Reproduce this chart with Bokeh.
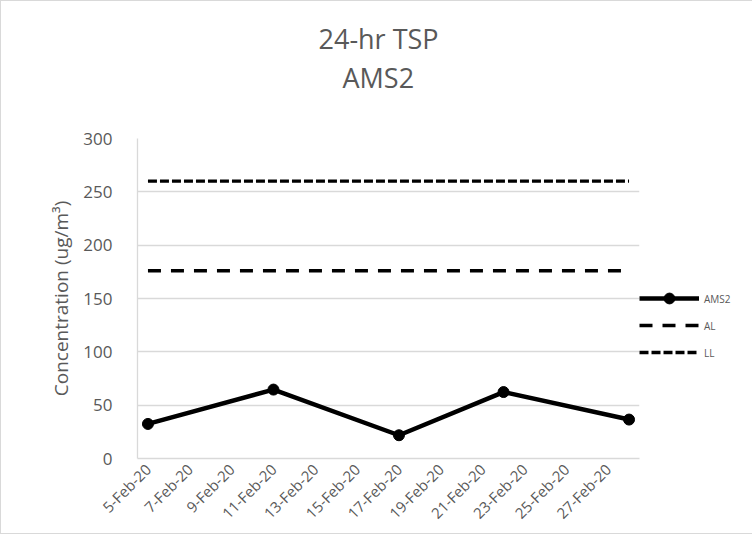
import math
from datetime import date

from bokeh.plotting import figure
from bokeh.models import Range1d, FixedTicker, Legend, LegendItem, Title
from bokeh.embed import file_html
from bokeh.resources import INLINE

# ---- data ----
title_lines = ["24-hr TSP", "AMS2"]
y_label = "Concentration (ug/m³)"
dates = ["2020-02-05", "2020-02-11", "2020-02-17", "2020-02-22", "2020-02-28"]
ams2 = [32.4, 64.6, 21.8, 62.3, 36.5]
al = [176, 176, 176, 176, 176]
ll = [260, 260, 260, 260, 260]
series_names = ["AMS2", "AL", "LL"]
tick_labels = ["5-Feb-20", "7-Feb-20", "9-Feb-20", "11-Feb-20", "13-Feb-20", "15-Feb-20",
               "17-Feb-20", "19-Feb-20", "21-Feb-20", "23-Feb-20", "25-Feb-20", "27-Feb-20"]
y_ticks = [0, 50, 100, 150, 200, 250, 300]

x = [date.fromisoformat(d).day for d in dates]
tick_pos = [int(t.split("-")[0]) for t in tick_labels]

FONT = "Open Sans"
GREY = "#595959"
GRID = "#d9d9d9"

p = figure(frame_width=502, frame_height=320, output_backend="svg", toolbar_location=None,
           x_range=Range1d(4.5, 28.5), y_range=Range1d(0, 300),
           min_border_left=136, min_border_right=98,
           min_border_top=137, min_border_bottom=75)
p.outline_line_color = None
p.background_fill_color = "white"
p.border_fill_color = "white"
p.styles = {"border": "1px solid #d9d9d9"}

# grid
p.xgrid.grid_line_color = None
p.ygrid.ticker = FixedTicker(ticks=y_ticks)
p.ygrid.grid_line_color = GRID
p.ygrid.grid_line_width = 1.3

# y axis
p.yaxis.ticker = FixedTicker(ticks=y_ticks)
p.yaxis.axis_line_color = GRID
p.yaxis.axis_line_width = 1.3
p.yaxis.major_tick_line_color = None
p.yaxis.minor_tick_line_color = None
p.yaxis.major_tick_out = 0
p.yaxis.major_tick_in = 0
p.yaxis.major_label_text_font = FONT
p.yaxis.major_label_text_font_size = "17px"
p.yaxis.major_label_text_color = GREY
p.yaxis.major_label_standoff = 25
p.yaxis.axis_label = y_label
p.yaxis.axis_label_text_font = FONT
p.yaxis.axis_label_text_font_style = "normal"
p.yaxis.axis_label_text_font_size = "19px"
p.yaxis.axis_label_text_color = GREY
p.yaxis.axis_label_standoff = 6

# x axis
p.xaxis.ticker = FixedTicker(ticks=tick_pos)
p.xaxis.major_label_overrides = {tp: lab for tp, lab in zip(tick_pos, tick_labels)}
p.xaxis.major_label_orientation = math.pi / 4
p.xaxis.axis_line_color = GRID
p.xaxis.axis_line_width = 1.3
p.xaxis.major_tick_line_color = None
p.xaxis.minor_tick_line_color = None
p.xaxis.major_tick_out = 0
p.xaxis.major_tick_in = 0
p.xaxis.major_label_text_font = FONT
p.xaxis.major_label_text_font_size = "15px"
p.xaxis.major_label_text_color = GREY
p.xaxis.major_label_standoff = 8

# series
r_ll = p.line(x, ll, line_color="black", line_width=3.3, line_dash="9 3")
r_al = p.line(x, al, line_color="black", line_width=3.3, line_dash="13 10")
r_a = p.line(x, ams2, line_color="black", line_width=4.5, line_join="round")
r_s = p.scatter(x, ams2, size=11, fill_color="black", line_color="black")
r_blank = p.line([], [], line_alpha=0)  # spacer entries for the legend

legend = Legend(items=[LegendItem(label=" ", renderers=[r_blank]),
                       LegendItem(label=" ", renderers=[r_blank]),
                       LegendItem(label=series_names[0], renderers=[r_a, r_s]),
                       LegendItem(label=series_names[1], renderers=[r_al]),
                       LegendItem(label=series_names[2], renderers=[r_ll])],
                location="center_left", glyph_width=60, glyph_height=27, label_height=27,
                label_width=20, label_standoff=5, spacing=0, padding=0, margin=0,
                border_line_color=None, background_fill_alpha=0,
                label_text_font=FONT, label_text_font_size="10px", label_text_color=GREY)
p.add_layout(legend, "right")

# titles: p.above[0] sits nearest the frame, p.title outermost.
# A small blank spacer goes nearest the plot, then "AMS2", then "24-hr TSP".
p.add_layout(Title(text="\u00a0", align="left", text_font=FONT, text_font_size="10px",
                   text_color=GREY, standoff=27), "above")
p.add_layout(Title(text=title_lines[1], align="left", offset=205, text_font=FONT,
                   text_font_size="27px", text_font_style="normal", text_color=GREY,
                   standoff=0), "above")
p.title.text = title_lines[0]
p.title.align = "left"
p.title.offset = 181
p.title.text_font = FONT
p.title.text_font_size = "27px"
p.title.text_font_style = "normal"
p.title.text_color = GREY
p.title.standoff = 0

open("out.html", "w").write(file_html(p, INLINE))
